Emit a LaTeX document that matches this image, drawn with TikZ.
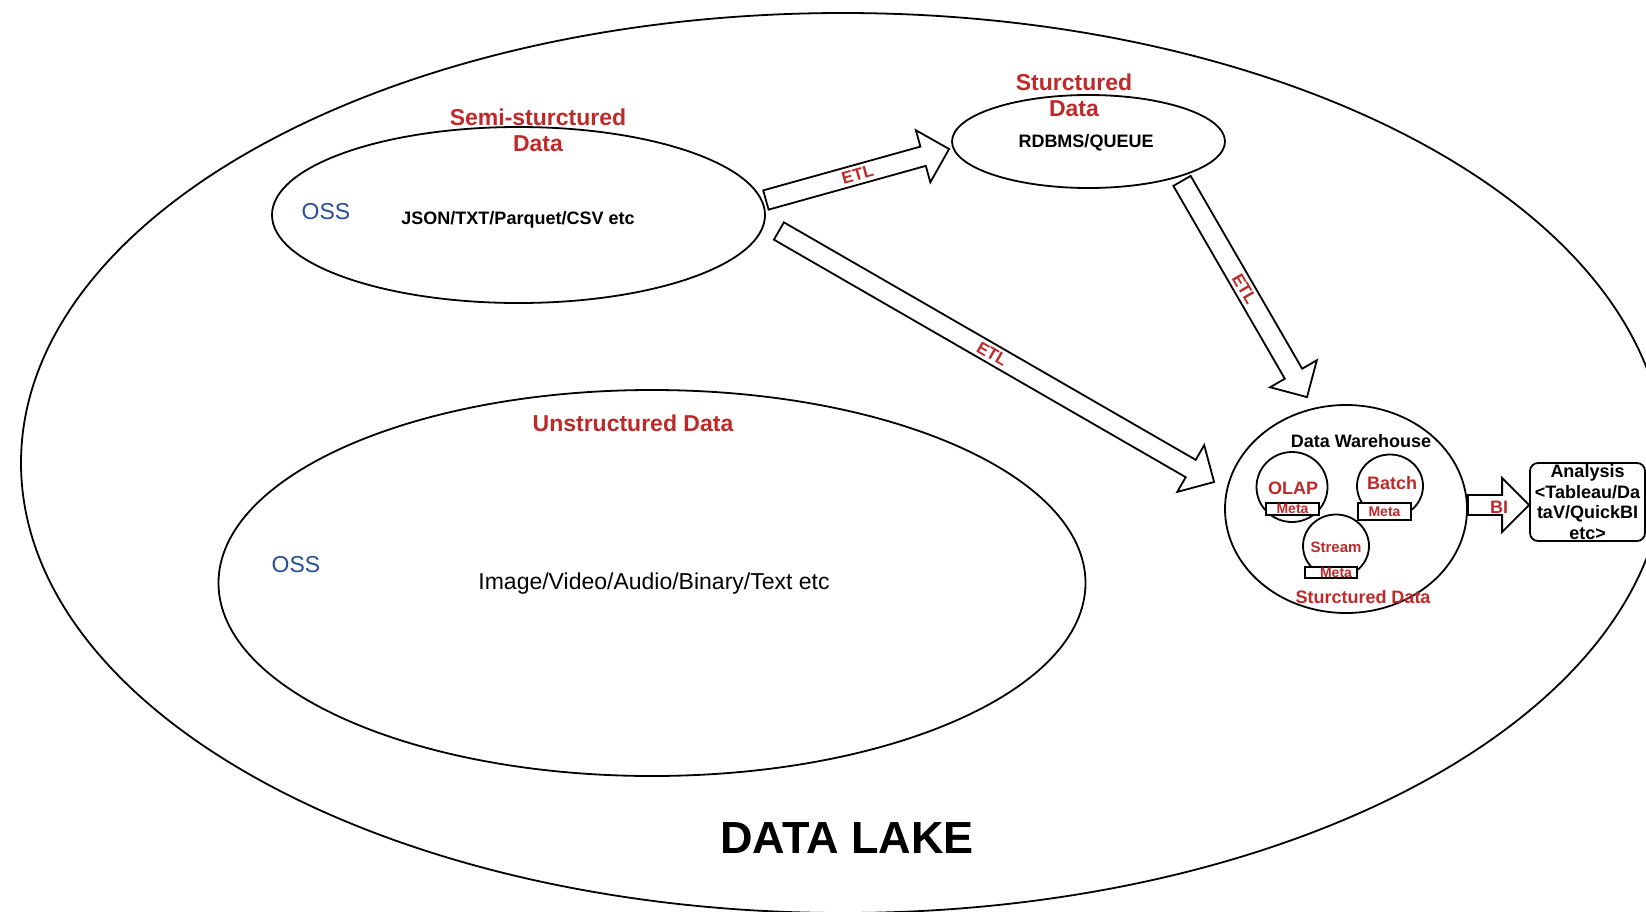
\documentclass[tikz,border=0pt]{standalone}
\usepackage{fontspec}
\setmainfont{Liberation Sans}
\usetikzlibrary{shapes.geometric,calc}
\definecolor{lblred}{RGB}{190,42,42}
\definecolor{ossblue}{RGB}{38,78,150}
\newcommand{\blockarrow}[2]{%
  \coordinate (ba-h) at ($(#2)!27pt!(#1)$);
  \draw[barrow] ($(#1)!10pt!90:(#2)$) -- ($(ba-h)!10pt!90:(#2)$) -- ($(ba-h)!27pt!90:(#2)$) -- (#2)
     -- ($(ba-h)!27pt!-90:(#2)$) -- ($(ba-h)!10pt!-90:(#2)$) -- ($(#1)!10pt!-90:(#2)$) -- cycle;
}
\begin{document}
\begin{tikzpicture}[x=1pt,y=-1pt,
  region/.style={draw, ellipse, line width=1.8pt, inner sep=0pt},
  bubble/.style={draw, ellipse, line width=1.8pt, inner sep=0pt},
  metabox/.style={draw, fill=white, rectangle, line width=1.8pt, inner sep=0pt},
  barrow/.style={draw, fill=white, line width=1.8pt, line join=miter},
  redtitle/.style={text=lblred, font=\fontsize{23}{26}\selectfont\bfseries, align=center, inner sep=0pt},
  redsmall/.style={text=lblred, font=\fontsize{18}{20}\selectfont\bfseries, align=center, inner sep=0pt},
  etl/.style={text=lblred, font=\fontsize{17}{19}\selectfont\bfseries, inner sep=0pt},
  redtiny/.style={text=lblred, font=\fontsize{14}{16}\selectfont\bfseries, inner sep=0pt},
  oss/.style={text=ossblue, font=\fontsize{23}{26}\selectfont, inner sep=0pt},
  blacksmall/.style={text=black, font=\fontsize{18}{20}\selectfont\bfseries, align=center, inner sep=0pt},
]
\path[fill=white,use as bounding box] (0,0) rectangle (1646,911);

% regions
\node[region, minimum width=1644, minimum height=900] (lake) at (843,463) {};
\node[region, minimum width=493, minimum height=176] (semi) at (518.5,215) {};
\node[region, minimum width=273, minimum height=93] (struct) at (1088.5,141.5) {};
\node[region, minimum width=867, minimum height=386] (unstr) at (652,583) {};
\node[region, minimum width=242, minimum height=208] (dw) at (1346,509) {};

% warehouse internals
\node[bubble, minimum width=71, minimum height=70] (olap) at (1292,487) {};
\node[bubble, minimum width=66, minimum height=63] (batch) at (1390,486) {};
\node[bubble, minimum width=66, minimum height=63] (stream) at (1336,546) {};
\node[metabox, minimum width=53, minimum height=12] (metaA) at (1292.5,509) {};
\node[metabox, minimum width=53, minimum height=17] (metaB) at (1384.5,511.5) {};
\node[metabox, minimum width=52, minimum height=11] (metaC) at (1331,572.5) {};
\node[redtiny] (metaAt) at (metaA) {Meta};
\node[redtiny] (metaBt) at (metaB) {Meta};
\node[redtiny] (metaCt) at ($(metaC)+(5,0)$) {Meta};

% analysis box
\node[draw, rectangle, rounded corners=8pt, line width=1.8pt, minimum width=115, minimum height=78, inner sep=0pt,
      font=\fontsize{18}{20.5}\selectfont\bfseries, align=center] (analysis) at (1587.5,502)
      {Analysis\\{<}Tableau/Da\\taV/QuickBI\\etc{>}};

% texts
\node[redtitle] (semiT) at (538,130) {Semi-sturctured\\Data};
\node[oss] (oss1) at (326,212) {OSS};
\node[blacksmall] (semiC) at (518,220) {JSON/TXT/Parquet/CSV etc};
\node[redtitle] (structT) at (1074,95) {Sturctured\\Data};
\node[blacksmall] (structC) at (1086,143) {RDBMS/QUEUE};
\node[redtitle] (unstrT) at (633,423) {Unstructured Data};
\node[oss] (oss2) at (296,565) {OSS};
\node[font=\fontsize{23}{26}\selectfont, inner sep=0pt] (unstrC) at (654,584) {Image/Video/Audio/Binary/Text etc};
\node[blacksmall] (dwT) at (1361,441) {Data Warehouse};
\node[redsmall] (olapT) at (1293,488) {OLAP};
\node[redsmall] (batchT) at (1392,483) {Batch};
\node[text=lblred, font=\fontsize{15}{17}\selectfont\bfseries, inner sep=0pt] (streamT) at (1336,547) {Stream};
\node[redsmall] (dwS) at (1363,597) {Sturctured Data};
\node[font=\fontsize{45}{50}\selectfont\bfseries, inner sep=0pt] (lakeT) at (847,838) {DATA LAKE};

% connector end points
\coordinate (a1s) at ($(semi.east)+(0,-15)$);
\coordinate (a1e) at ($(struct.west)+(-2,7.5)$);
\coordinate (a2s) at ($(semi.east)+(13,16)$);
\coordinate (a2e) at ($(dw.west)+(-10,-27)$);
\coordinate (a3s) at ($(struct.south)+(93.5,-8)$);
\coordinate (a3e) at ($(dw.north)+(-39,-7)$);
\coordinate (a4s) at ($(dw.east)+(0,-4)$);
\coordinate (a4e) at ($(analysis.west)+(0,3)$);

\blockarrow{a1s}{a1e}
\blockarrow{a2s}{a2e}
\blockarrow{a3s}{a3e}
\blockarrow{a4s}{a4e}

\node[etl, rotate=15.5] (etl1) at ($(a1s)!0.5!(a1e)$) {ETL};
\node[etl, rotate=-30] (etl2) at ($(a2s)!0.49!(a2e)$) {ETL};
\node[etl, rotate=-60] (etl3) at ($(a3s)!0.5!(a3e)$) {ETL};
\node[redsmall] (bi) at (1499,507) {BI};
\end{tikzpicture}
\end{document}
